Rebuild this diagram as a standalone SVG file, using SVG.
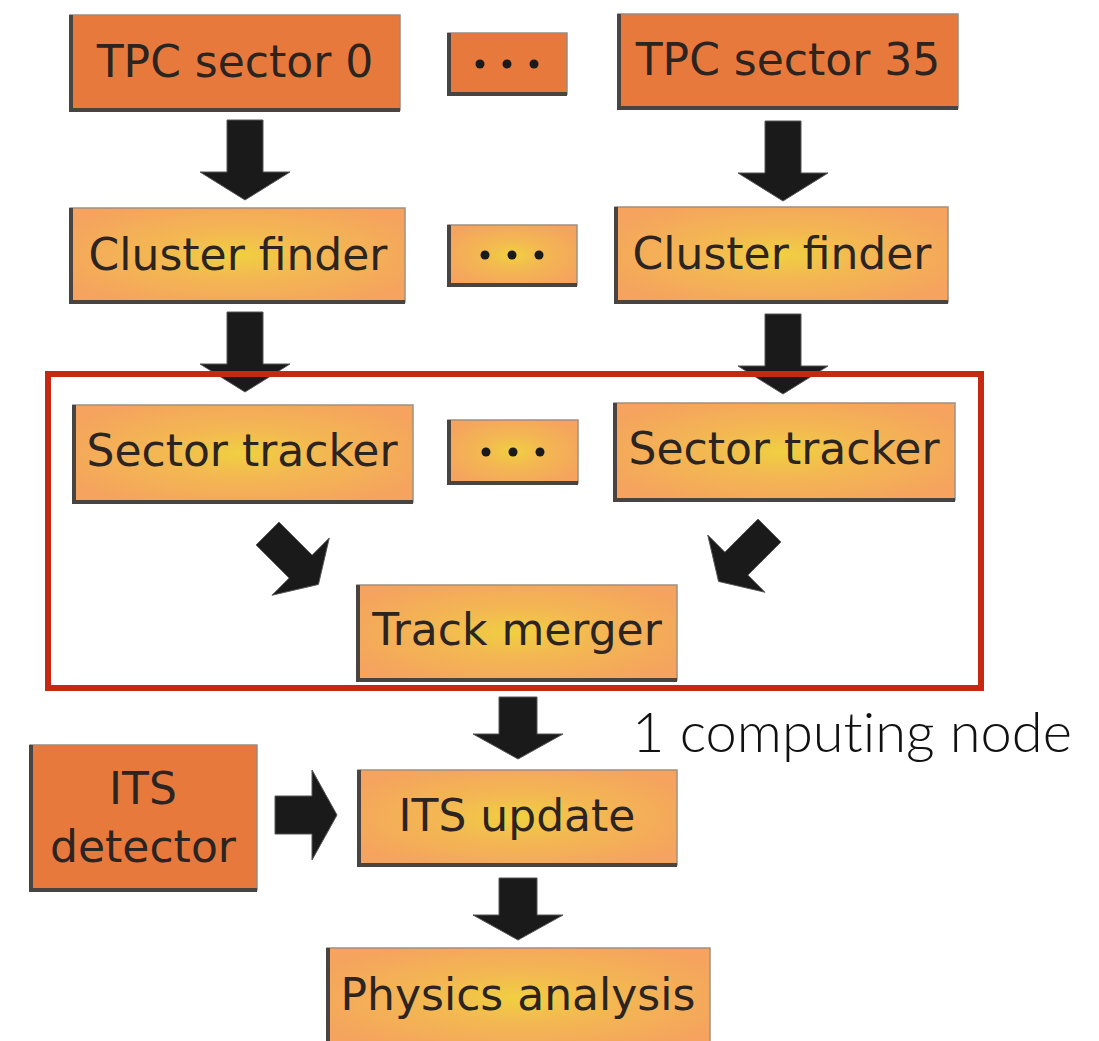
<svg xmlns="http://www.w3.org/2000/svg" width="1099" height="1041" viewBox="0 0 1099 1041">
<style>
.lbl{font-family:"DejaVu Sans",Verdana,sans-serif;font-size:44px;fill:#2b2420;text-anchor:middle}
.dark{fill:#e8793c;stroke:#9a8a80;stroke-width:1.5}
.light{fill:url(#lg);stroke:#a09080;stroke-width:1.5}
.edge{fill:none;stroke:#4a4440;stroke-width:4}
.arrow{fill:#1a1a1a;stroke:#555;stroke-width:1}
.dots{fill:#1a1a1a}
.note{font-family:Lato,"Liberation Sans",sans-serif;font-weight:300;font-size:56px;fill:#111;font-variant-ligatures:none}
</style>
<defs>
<radialGradient id="lg" cx="0.5" cy="0.5" r="0.6">
<stop offset="0" stop-color="#f0d040"/>
<stop offset="0.4" stop-color="#f3b852"/>
<stop offset="1" stop-color="#f5a35e"/>
</radialGradient>
<path id="arL" d="M-18,-40 H18 V12 H45 L0,40 L-45,12 H-18 Z"/>
<path id="arS" d="M-19,-31 H19 V6 H45 L0,31 L-45,6 H-19 Z"/>
</defs>
<rect width="1099" height="1041" fill="#fff"/>

<g id="tpc0">
<rect class="dark" x="70" y="15" width="330" height="95"/>
<path class="edge" d="M71,15 V110 H400"/>
<text class="lbl" x="235" y="77">TPC sector 0</text>
</g>
<g id="dots1">
<rect class="dark" x="448" y="33" width="119" height="61"/>
<path class="edge" d="M449,33 V94 H567"/>
<circle class="dots" cx="480" cy="64" r="4.5"/><circle class="dots" cx="507" cy="64" r="4.5"/><circle class="dots" cx="534" cy="64" r="4.5"/>
</g>
<g id="tpc35">
<rect class="dark" x="618" y="14" width="340" height="94"/>
<path class="edge" d="M619,14 V108 H958"/>
<text class="lbl" x="788" y="75">TPC sector 35</text>
</g>

<g id="cf0">
<rect class="light" x="70" y="208" width="335" height="94"/>
<path class="edge" d="M71,208 V302 H405"/>
<text class="lbl" x="238" y="270">Cluster finder</text>
</g>
<g id="dots2">
<rect class="light" x="448" y="225" width="129" height="60"/>
<path class="edge" d="M449,225 V285 H577"/>
<circle class="dots" cx="485" cy="255" r="4.5"/><circle class="dots" cx="512" cy="255" r="4.5"/><circle class="dots" cx="539" cy="255" r="4.5"/>
</g>
<g id="cf35">
<rect class="light" x="615" y="207" width="333" height="95"/>
<path class="edge" d="M616,207 V302 H948"/>
<text class="lbl" x="782" y="269">Cluster finder</text>
</g>

<g id="st0">
<rect class="light" x="73" y="405" width="340" height="97"/>
<path class="edge" d="M74,405 V502 H413"/>
<text class="lbl" x="242" y="466">Sector tracker</text>
</g>
<g id="dots3">
<rect class="light" x="448" y="420" width="130" height="63"/>
<path class="edge" d="M449,420 V483 H578"/>
<circle class="dots" cx="486" cy="452" r="4.5"/><circle class="dots" cx="513" cy="452" r="4.5"/><circle class="dots" cx="540" cy="452" r="4.5"/>
</g>
<g id="st35">
<rect class="light" x="614" y="403" width="341" height="97"/>
<path class="edge" d="M615,403 V500 H955"/>
<text class="lbl" x="784" y="464">Sector tracker</text>
</g>

<g id="merger">
<rect class="light" x="357" y="585" width="320" height="95"/>
<path class="edge" d="M358,585 V680 H677"/>
<text class="lbl" x="517" y="645">Track merger</text>
</g>

<g id="itsdet">
<rect class="dark" x="30" y="745" width="227" height="145"/>
<path class="edge" d="M31,745 V890 H257"/>
<text class="lbl" x="143" y="804">ITS</text>
<text class="lbl" x="143" y="862">detector</text>
</g>
<g id="itsupd">
<rect class="light" x="358" y="770" width="319" height="95"/>
<path class="edge" d="M359,770 V865 H677"/>
<text class="lbl" x="517" y="831">ITS update</text>
</g>
<g id="phys">
<rect class="light" x="327" y="948" width="383" height="100"/>
<path class="edge" d="M328,948 V1045"/>
<text class="lbl" x="518" y="1010">Physics analysis</text>
</g>

<g id="connectors">
<use href="#arL" class="arrow" transform="translate(245,160)"/>
<use href="#arL" class="arrow" transform="translate(783,161)"/>
<use href="#arL" class="arrow" transform="translate(245,352)"/>
<use href="#arL" class="arrow" transform="translate(783,354)"/>
<use href="#arL" class="arrow" transform="translate(293,559) rotate(-45) scale(0.9)"/>
<use href="#arL" class="arrow" transform="translate(744,556) rotate(45) scale(0.9)"/>
<use href="#arS" class="arrow" transform="translate(518,728)"/>
<use href="#arS" class="arrow" transform="translate(306,815) rotate(-90)"/>
<use href="#arS" class="arrow" transform="translate(518,909)"/>
</g>

<g id="group">
<rect x="48" y="374" width="933" height="314" fill="none" stroke="#c5290f" stroke-width="6"/>
<text class="note" x="632" y="752">1 computing node</text>
</g>
</svg>
